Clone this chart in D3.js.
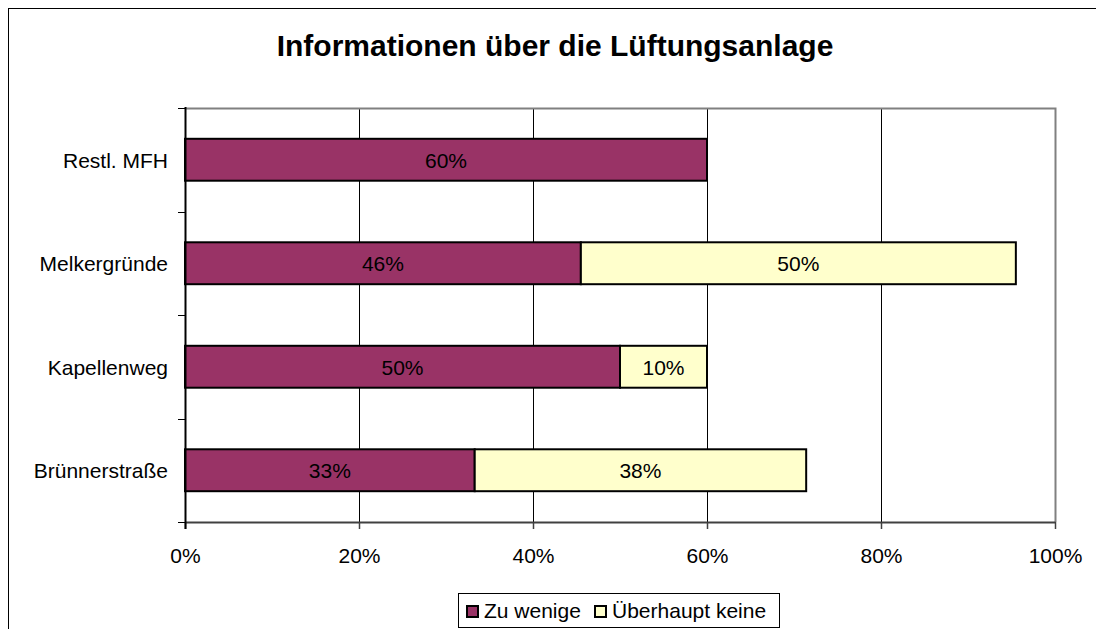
<!DOCTYPE html>
<html>
<head>
<meta charset="utf-8">
<script src="https://cdn.jsdelivr.net/npm/d3@7"></script>
<style>
  body { margin: 0; background: #fff; }
  text { font-family: "Liberation Sans", Arial, sans-serif; }
</style>
</head>
<body>
<svg id="chart" width="1096" height="629"></svg>
<script>
// Chart data
const categories = ['Restl. MFH', 'Melkergründe', 'Kapellenweg', 'Brünnerstraße'];
const zuWenige = [60, 45.5, 50, 33.3];
const ueberhauptKeine = [0, 50, 10, 38.1];
const zuWenigeLabels = ['60%', '46%', '50%', '33%'];
const keineLabels = ['', '50%', '10%', '38%'];
const xTicks = [0, 20, 40, 60, 80, 100];
const seriesNames = ['Zu wenige', 'Überhaupt keine'];
const seriesColors = ['#993366', '#FFFFCC'];

const svg = d3.select('#chart');
const margin = { left: 185, right: 1055, top: 108, bottom: 522 };
const fs = 21;

// Outer chart border
svg.append('rect')
  .attr('x', 8.5).attr('y', 8.5)
  .attr('width', 1100).attr('height', 640)
  .attr('fill', 'none').attr('stroke', '#000').attr('stroke-width', 1);

// Title
svg.append('text')
  .attr('x', 555).attr('y', 56)
  .attr('text-anchor', 'middle')
  .attr('font-size', 30).attr('font-weight', 'bold')
  .text('Informationen über die Lüftungsanlage');

const x = d3.scaleLinear().domain([0, 100]).range([margin.left, margin.right]);
const y = d3.scaleBand().domain(categories).range([margin.top, margin.bottom]).paddingInner(0.595).paddingOuter(0.2975);

// Vertical gridlines
svg.append('g')
  .selectAll('line')
  .data(xTicks.slice(1, -1))
  .join('line')
  .attr('x1', d => x(d) + 0.5).attr('x2', d => x(d) + 0.5)
  .attr('y1', margin.top).attr('y2', margin.bottom)
  .attr('stroke', '#000').attr('stroke-width', 1);

// Plot area border (top, right) in gray
svg.append('path')
  .attr('d', `M${margin.left},${margin.top + 0.5}H${margin.right + 0.5}V${margin.bottom}`)
  .attr('fill', 'none').attr('stroke', '#808080').attr('stroke-width', 2);

// Bars
const rows = categories.map((c, i) => ({ c, a: zuWenige[i], b: ueberhauptKeine[i], la: zuWenigeLabels[i], lb: keineLabels[i] }));

const barG = svg.append('g');
barG.selectAll('rect.a')
  .data(rows)
  .join('rect')
  .attr('class', 'a')
  .attr('x', x(0))
  .attr('y', d => y(d.c))
  .attr('width', d => x(d.a) - x(0))
  .attr('height', y.bandwidth())
  .attr('fill', seriesColors[0])
  .attr('stroke', '#000').attr('stroke-width', 2);

barG.selectAll('rect.b')
  .data(rows.filter(d => d.b > 0))
  .join('rect')
  .attr('class', 'b')
  .attr('x', d => x(d.a))
  .attr('y', d => y(d.c))
  .attr('width', d => x(d.a + d.b) - x(d.a))
  .attr('height', y.bandwidth())
  .attr('fill', seriesColors[1])
  .attr('stroke', '#000').attr('stroke-width', 2);

// Bar value labels
barG.selectAll('text.la')
  .data(rows)
  .join('text')
  .attr('class', 'la')
  .attr('x', d => (x(0) + x(d.a)) / 2)
  .attr('y', d => y(d.c) + y.bandwidth() / 2 + 8)
  .attr('text-anchor', 'middle')
  .attr('font-size', fs).attr('fill', '#000')
  .text(d => d.la);

barG.selectAll('text.lb')
  .data(rows.filter(d => d.b > 0))
  .join('text')
  .attr('class', 'lb')
  .attr('x', d => (x(d.a) + x(d.a + d.b)) / 2)
  .attr('y', d => y(d.c) + y.bandwidth() / 2 + 8)
  .attr('text-anchor', 'middle')
  .attr('font-size', fs).attr('fill', '#000')
  .text(d => d.lb);

// X axis
const xAxis = svg.append('g')
  .attr('transform', `translate(0,${margin.bottom})`)
  .call(d3.axisBottom(x).tickValues(xTicks).tickFormat(d => d + '%').tickSize(7).tickSizeOuter(0));
xAxis.select('.domain').attr('stroke', '#404040').attr('stroke-width', 2);
xAxis.selectAll('.tick line').attr('stroke', '#404040').attr('stroke-width', 1.5);
xAxis.selectAll('text')
  .attr('y', 41).attr('dy', null)
  .attr('font-size', fs).attr('fill', '#000')
  .style('font-family', '"Liberation Sans", Arial, sans-serif');

// Y axis: line plus ticks at band boundaries
const bandEdges = d3.range(categories.length + 1).map(i => margin.top + i * (margin.bottom - margin.top) / categories.length);
const yAxis = svg.append('g');
yAxis.append('line')
  .attr('x1', margin.left + 0.5).attr('x2', margin.left + 0.5)
  .attr('y1', margin.top - 1).attr('y2', margin.bottom + 7)
  .attr('stroke', '#000').attr('stroke-width', 2);
yAxis.selectAll('line.tk')
  .data(bandEdges)
  .join('line')
  .attr('class', 'tk')
  .attr('x1', margin.left - 7).attr('x2', margin.left)
  .attr('y1', d => Math.round(d) + 0.5).attr('y2', d => Math.round(d) + 0.5)
  .attr('stroke', '#000').attr('stroke-width', 1);
yAxis.selectAll('text')
  .data(categories)
  .join('text')
  .attr('x', 168)
  .attr('y', d => y(d) + y.bandwidth() / 2 + 8)
  .attr('text-anchor', 'end')
  .attr('font-size', fs).attr('fill', '#000')
  .text(d => d);

// Legend
const legend = svg.append('g');
legend.append('rect')
  .attr('x', 458.5).attr('y', 593.5)
  .attr('width', 321).attr('height', 34)
  .attr('fill', '#fff').attr('stroke', '#000').attr('stroke-width', 1);
const legendItems = [{ n: seriesNames[0], c: seriesColors[0], x: 467 }, { n: seriesNames[1], c: seriesColors[1], x: 595 }];
legendItems.forEach(it => {
  legend.append('rect')
    .attr('x', it.x).attr('y', 606)
    .attr('width', 11).attr('height', 11)
    .attr('fill', it.c).attr('stroke', '#000').attr('stroke-width', 2);
  legend.append('text')
    .attr('x', it.x + 17).attr('y', 618)
    .attr('font-size', fs).attr('fill', '#000')
    .text(it.n);
});
</script>
</body>
</html>
